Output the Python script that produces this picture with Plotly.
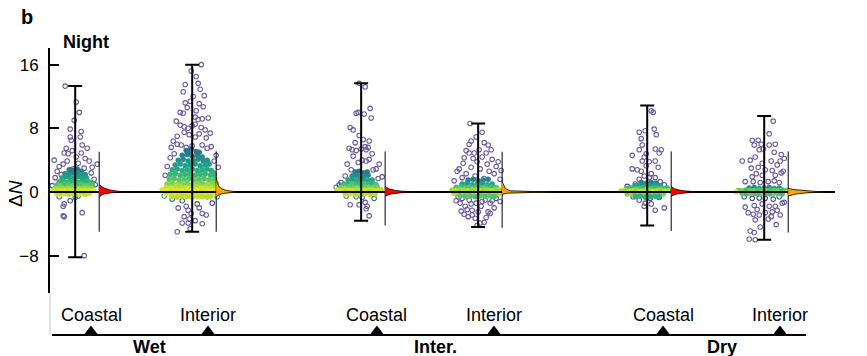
import numpy as np
import plotly.graph_objects as go

# ---------------- data ----------------
groups = ["Wet", "Inter.", "Dry"]
sites = ["Coastal", "Interior", "Coastal", "Interior", "Coastal", "Interior"]
y_ticks = [-8, 0, 8, 16]

# whisker ranges of ΔN per site
whisker_lo = [-8.2, -5.0, -3.6, -4.4, -4.2, -6.0]
whisker_hi = [13.3, 16.0, 13.65, 8.6, 10.85, 9.55]

# half-violin extents
vio_lo = [-5.0, -5.0, -4.2, -4.5, -4.9, -5.1]
vio_hi = [5.06, 5.1, 5.1, 5.06, 5.1, 5.1]
# half-violin density profiles (value, relative density)
vio_wc_y = [-0.7, -0.4, -0.25, -0.1, 0, 0.1, 0.25, 0.5, 0.9]
vio_wc_d = [0, 0.08, 0.2, 0.5, 1.0, 0.7, 0.45, 0.2, 0]
vio_wi_y = [-0.6, -0.3, -0.15, 0, 0.2, 0.4, 0.7, 1.2, 1.9]
vio_wi_d = [0, 0.15, 0.4, 1.0, 0.45, 0.25, 0.12, 0.05, 0]
vio_ic_y = [-0.5, -0.25, -0.1, 0, 0.1, 0.2, 0.4, 0.7]
vio_ic_d = [0, 0.2, 0.55, 1.0, 0.6, 0.35, 0.12, 0]
vio_ii_y = [-0.3, -0.15, -0.05, 0, 0.05, 0.15, 0.4, 0.8, 1.3]
vio_ii_d = [0, 0.1, 0.6, 1.0, 0.6, 0.15, 0.06, 0.03, 0]
vio_dc_y = [-0.5, -0.25, -0.1, 0, 0.1, 0.2, 0.4, 0.67]
vio_dc_d = [0, 0.2, 0.55, 1.0, 0.6, 0.35, 0.12, 0]
vio_di_y = [-0.5, -0.25, -0.1, 0, 0.05, 0.15, 0.3, 0.45]
vio_di_d = [0, 0.2, 0.5, 1.0, 0.75, 0.4, 0.15, 0]
vio_peak = [0.205, 0.188, 0.248, 0.47, 0.239, 0.333]   # peak density (x units)

# individual points: (jitter in px-of-category, ΔN)
pts_wc = [(-10,13.3),(1,11.3),(4,10.0),(-1,9.0),(-5,7.9),(6,7.6),(-5,6.9),(-4,6.5),(5,6.9),(7,5.9),(12,5.5),(-9,5.5),
          (-11,4.9),(-7,4.8),(-21,4.0),(-12,3.5),(17,3.1),(22,3.5),(1,4.4),(6,4.9),(-3,5.2),(10,4.2),(14,3.9),(-16,3.2),
          (-18,2.6),(-8,3.9),(3,3.6),(-2,2.9),(9,3.0),(16,2.4),(19,1.6),(-14,2.2),(-16,-0.6),(-11,-1.5),(-12,-1.8),
          (-5,-1.1),(-12,-3.0),(-11,-3.1),(7,-2.6),(9,-8.0),(0,-0.7),(3,-0.5),(-20,1.8),(20,0.9),(-23,0.8)]
core_wc = [(-6,2.8),(-2,2.7),(2,2.9),(6,2.6),(-10,2.3),(-6,2.2),(-2,2.4),(2,2.3),(6,2.1),(10,2.2),(-13,1.8),(-9,1.9),
           (-5,1.7),(-1,1.8),(3,1.9),(7,1.7),(11,1.8),(-16,1.3),(-12,1.4),(-8,1.2),(-4,1.3),(0,1.4),(4,1.2),(8,1.3),
           (12,1.4),(15,1.2),(-18,0.9),(-14,0.8),(-10,1.0),(-6,0.9),(-2,0.8),(2,1.0),(6,0.9),(10,0.8),(14,0.9),(17,1.0),
           (-20,0.5),(-16,0.55),(-12,0.45),(-8,0.5),(-4,0.55),(0,0.5),(4,0.45),(8,0.5),(12,0.55),(16,0.5),(-22,0.2),
           (-18,0.25),(-14,0.2),(-10,0.15),(-6,0.25),(-2,0.2),(2,0.15),(6,0.2),(10,0.25),(14,0.2),(18,0.15),(-18,-0.2),
           (-14,-0.25),(-10,-0.2),(-6,-0.3),(-2,-0.2),(2,-0.25),(6,-0.2),(10,-0.3),(14,-0.2)]

pts_wi = [(9,16.0),(4,14.5),(-7,13.5),(6,13.65),(-9,12.6),(8,12.9),(12,12.1),(-7,11.2),(-2,11.4),(7,11.1),(-12,10.0),
          (-9,9.9),(4,10.2),(6,9.1),(10,9.2),(3,9.4),(16,9.3),(-12,8.4),(-8,8.2),(-4,8.0),(0,8.3),(3,8.5),(9,8.1),(13,7.8),
          (-15,7.0),(-3,7.2),(-8,7.5),(7,7.3),(14,6.8),(3,6.9),(-21,5.6),(-15,6.0),(-11,5.9),(-6,5.6),(0,5.8),(10,5.9),
          (15,5.5),(19,5.7),(-18,4.8),(-22,4.3),(24,4.6),(22,3.9),(26,3.1),(-25,3.2),(-27,2.1),(21,2.4),(-20,-0.9),
          (-10,-1.1),(-6,-1.8),(-4,-2.3),(-1,-2.7),(-8,-3.1),(-10,-3.9),(-4,-3.9),(-3,-3.4),(-15,-5.0),(10,-2.7),
          (14,-2.9),(10,-4.0),(20,-1.4),(-14,-2.0),(5,-1.5),(-28,-0.5),(25,-0.6),(3,-3.6),(-2,-4.6),(7,-2.0),
          (-1,15.2),(-5,10.6),(11,10.7),(-16,8.9),(18,7.4),(-19,6.4),(1,12.0)]
core_wi = [(-10,4.6),(-5,4.7),(0,4.5),(5,4.6),(10,4.4),(-14,4.0),(-9,4.1),(-4,3.9),(1,4.0),(6,4.1),(11,3.9),(15,4.0),
           (-17,3.4),(-12,3.5),(-7,3.3),(-2,3.4),(3,3.5),(8,3.3),(13,3.4),(17,3.5),(-20,2.8),(-15,2.9),(-10,2.7),
           (-5,2.8),(0,2.9),(5,2.7),(10,2.8),(15,2.9),(19,2.7),(-22,2.2),(-17,2.3),(-12,2.1),(-7,2.2),(-2,2.3),(3,2.1),
           (8,2.2),(13,2.3),(18,2.1),(22,2.2),(-23,1.6),(-18,1.7),(-13,1.5),(-8,1.6),(-3,1.7),(2,1.5),(7,1.6),(12,1.7),
           (17,1.5),(22,1.6),(-25,1.0),(-20,1.1),(-15,0.9),(-10,1.0),(-5,1.1),(0,0.9),(5,1.0),(10,1.1),(15,0.9),(20,1.0),
           (24,1.1),(-26,0.6),(-21,0.55),(-16,0.65),(-11,0.6),(-6,0.55),(-1,0.6),(4,0.65),(9,0.6),(14,0.55),(19,0.6),
           (24,0.65),(-30,0.25),(-25,0.2),(-20,0.3),(-15,0.25),(-10,0.2),(-5,0.3),(0,0.25),(5,0.2),(10,0.3),(15,0.25),
           (20,0.2),(25,0.25),(-26,-0.2),(-21,-0.25),(-16,-0.2),(-11,-0.3),(-6,-0.2),(-1,-0.25),(4,-0.2),(9,-0.3),
           (14,-0.2),(19,-0.25),(23,-0.2),(-20,-0.6),(-15,-0.65),(-10,-0.55),(-5,-0.6),(0,-0.65),(5,-0.55),(10,-0.6),
           (15,-0.65),(18,-0.6),(-6,5.2),(-1,5.4),(4,5.1),(-3,4.9),(7,5.0)]

pts_ic = [(-2,13.65),(4,13.2),(9,10.5),(-5,9.9),(-3,10.0),(3,9.8),(10,9.3),(-11,8.1),(-8,7.8),(-2,7.1),(8,6.4),(4,5.7),
          (-12,5.5),(-9,5.3),(-5,5.2),(0,5.4),(5,5.3),(7,5.6),(1,4.0),(-3,3.7),(5,3.9),(8,4.1),(18,3.5),(-14,3.5),
          (-10,2.8),(12,2.8),(15,2.9),(21,1.9),(17,1.7),(-8,4.5),(-16,2.0),(-20,1.2),(-25,0.6),(-22,0.9),(-11,-1.6),
          (-2,-1.6),(4,-1.3),(6,-1.8),(5,-2.1),(8,-3.0),(-5,-0.6),(1,-0.7),(13,-0.8),(-15,-0.5),(2,6.6),(-6,6.2),(11,4.8)]
core_ic = [(-6,2.5),(-2,2.6),(2,2.4),(6,2.5),(-9,2.0),(-5,2.1),(-1,1.9),(3,2.0),(7,2.1),(-13,1.5),(-9,1.6),(-5,1.4),
           (-1,1.5),(3,1.6),(7,1.4),(11,1.5),(-17,1.0),(-13,1.1),(-9,0.9),(-5,1.0),(-1,1.1),(3,0.9),(7,1.0),(11,1.1),
           (15,0.9),(-20,0.6),(-16,0.55),(-12,0.65),(-8,0.6),(-4,0.55),(0,0.6),(4,0.65),(8,0.6),(12,0.55),(16,0.6),
           (-24,0.25),(-20,0.2),(-16,0.3),(-12,0.25),(-8,0.2),(-4,0.3),(0,0.25),(4,0.2),(8,0.3),(12,0.25),(16,0.2),
           (20,0.25),(-16,-0.25),(-11,-0.2),(-6,-0.3),(-1,-0.25),(4,-0.2),(9,-0.3),(14,-0.25)]

pts_ii = [(-8,8.6),(4,7.5),(-7,6.4),(-9,6.0),(-12,5.2),(1,5.3),(10,5.9),(-4,4.9),(-9,4.9),(8,4.9),(13,5.3),(-15,3.6),
          (-19,2.9),(-21,2.6),(20,3.8),(18,3.2),(23,2.7),(16,2.3),(-12,2.3),(-5,4.2),(4,4.4),(-1,3.8),(9,3.5),(-7,3.1),
          (2,2.9),(11,2.6),(-16,1.8),(-24,1.4),(22,1.6),(-2,6.9),(6,6.2),(-14,4.3),(14,4.1),(-3,2.0),(6,1.7),
          (-20,-0.6),(-16,-0.8),(-9,-1.0),(-2,-1.4),(7,-1.0),(12,-1.4),(18,-0.8),(-13,-1.8),(-6,-2.3),(3,-1.8),
          (10,-2.5),(-18,-1.4),(-14,-2.8),(-10,-3.1),(-6,-2.9),(2,-3.9),(6,-3.8),(12,-2.7),(-22,-1.1),(22,-1.2),
          (-3,-3.3),(8,-3.2),(16,-2.0),(-11,-2.2),(0,-2.5),(4,-1.2),(-7,-1.5),(14,-1.1),(-1,-4.2),(-17,-2.4)]
core_ii = [(-10,1.5),(-5,1.6),(0,1.4),(5,1.5),(10,1.6),(-16,1.0),(-11,1.1),(-6,0.9),(-1,1.0),(4,1.1),(9,0.9),(14,1.0),
           (-22,0.6),(-17,0.65),(-12,0.55),(-7,0.6),(-2,0.65),(3,0.55),(8,0.6),(13,0.65),(18,0.55),(-26,0.25),
           (-22,0.2),(-18,0.3),(-14,0.25),(-10,0.2),(-6,0.3),(-2,0.25),(2,0.2),(6,0.3),(10,0.25),(14,0.2),(18,0.3),
           (21,0.25),(-24,-0.2),(-19,-0.25),(-14,-0.2),(-9,-0.3),(-4,-0.2),(1,-0.25),(6,-0.2),(11,-0.3),(16,-0.2),
           (20,-0.25),(-18,-0.5),(-13,-0.55),(-8,-0.5),(-3,-0.6),(2,-0.5),(7,-0.55),(12,-0.5),(16,-0.6)]

pts_dc = [(4,10.2),(6,10.0),(-8,7.5),(-2,7.7),(7,7.9),(-6,6.7),(9,7.2),(-5,5.9),(-8,5.3),(-1,4.8),(8,5.4),(14,5.3),
          (12,4.9),(-3,4.4),(-15,4.6),(-5,3.9),(2,3.8),(8,3.9),(-1,3.3),(11,3.1),(-15,2.9),(-10,2.8),(-6,2.6),(4,2.3),
          (2,1.8),(8,1.8),(-8,1.6),(-3,2.0),(13,1.3),(-12,1.0),(17,0.9),(-20,0.7),(-8,-1.0),(-2,-1.4),(-3,-1.8),
          (4,-1.5),(8,-2.3),(17,-2.0),(3,-0.8),(12,-0.7),(-14,-0.6)]
core_dc = [(-6,1.2),(-1,1.1),(4,1.2),(9,1.1),(-12,0.8),(-7,0.85),(-2,0.75),(3,0.8),(8,0.85),(13,0.75),(-20,0.45),
           (-16,0.5),(-12,0.4),(-8,0.45),(-4,0.5),(0,0.4),(4,0.45),(8,0.5),(12,0.4),(16,0.45),(20,0.5),(-26,0.15),
           (-22,0.2),(-18,0.1),(-14,0.15),(-10,0.2),(-6,0.1),(-2,0.15),(2,0.2),(6,0.1),(10,0.15),(14,0.2),(18,0.1),
           (22,0.15),(-20,-0.25),(-16,-0.2),(-12,-0.3),(-8,-0.25),(-4,-0.2),(0,-0.3),(4,-0.25),(8,-0.2),(12,-0.3),
           (16,-0.25),(-12,-0.6),(-7,-0.55),(-2,-0.65),(3,-0.6),(8,-0.55),(12,-0.6)]

pts_di = [(9,8.9),(5,7.3),(-12,6.5),(-6,6.5),(-3,6.0),(-10,5.9),(-1,5.4),(-5,5.3),(5,5.9),(11,6.0),(10,5.0),(17,4.7),
          (20,4.2),(-22,3.9),(-14,4.0),(-9,4.4),(-2,3.6),(7,3.9),(13,3.4),(16,3.9),(-13,3.0),(-6,3.1),(1,2.8),(8,2.7),
          (17,2.4),(-12,1.9),(-8,2.3),(-2,2.1),(11,2.1),(19,2.6),(-19,1.3),(-11,1.3),(-4,1.2),(4,1.3),(10,1.4),(15,1.2),
          (-20,-0.6),(-12,-0.8),(-5,-0.75),(1,-0.8),(9,-0.9),(15,-0.6),(20,-1.3),(-19,-1.9),(-10,-1.7),(-2,-1.5),
          (5,-1.8),(11,-1.8),(18,-1.4),(-11,-2.8),(-5,-2.9),(1,-2.6),(8,-2.5),(13,-2.3),(-9,-3.5),(4,-3.4),(12,-4.1),
          (-14,-4.9),(-10,-5.1),(-15,-5.9),(-9,-6.0),(-4,-4.4),(7,-3.1),(-7,-2.2),(16,-2.9),(-16,-2.6)]
core_di = [(-15,0.5),(-10,0.55),(-5,0.45),(0,0.5),(5,0.55),(10,0.45),(15,0.5),(-26,0.2),(-22,0.15),(-18,0.25),
           (-14,0.2),(-10,0.15),(-6,0.25),(-2,0.2),(2,0.15),(6,0.25),(10,0.2),(14,0.15),(18,0.25),(22,0.2),
           (-22,-0.2),(-18,-0.25),(-14,-0.15),(-10,-0.2),(-6,-0.25),(-2,-0.15),(2,-0.2),(6,-0.25),(10,-0.15),
           (14,-0.2),(18,-0.25),(-28,0.0),(24,0.0)]

points = [pts_wc, pts_wi, pts_ic, pts_ii, pts_dc, pts_di]
cores = [core_wc, core_wi, core_ic, core_ii, core_dc, core_di]
vio_ys = [vio_wc_y, vio_wi_y, vio_ic_y, vio_ii_y, vio_dc_y, vio_di_y]
vio_ds = [vio_wc_d, vio_wi_d, vio_ic_d, vio_ii_d, vio_dc_d, vio_di_d]

# ---------------- layout / style ----------------
CAT_POS = [1, 2, 3.444, 4.444, 5.889, 6.889]
PX_PER_UNIT = 117.0
SCAT_OFF = -0.135
VIO_OFF = 0.07
OUTER_SPREAD = [1.4, 1.8, 1.4, 1.0, 1.0, 1.0]
CORE_SPREAD = [3.4, 6.2, 3.0, 2.0, 1.5, 0.8]
VIO_COLORS = ["#ff0000", "#ffa500", "#ff0000", "#ffa500", "#ff0000", "#ffa500"]
XR = [0.6496, 7.359]
FONT = "Liberation Sans, Arial, sans-serif"
OUTER_SCALE = [[0, "#7ad151"], [0.25, "#22a884"], [0.5, "#2a788e"], [0.75, "#414487"], [1, "#6a5a9e"]]
CORE_SCALE = [[0, "#fde725"], [0.08, "#c8e020"], [0.18, "#74d055"], [0.35, "#35b779"], [0.55, "#1f9e89"],
              [0.75, "#26828e"], [1, "#35608d"]]

fig = go.Figure()

for i in range(6):
    cx = CAT_POS[i] + SCAT_OFF
    # sparse outer points: open rings
    dx = np.array([p[0] for p in points[i]]) / PX_PER_UNIT
    yy = np.array([p[1] for p in points[i]])
    fig.add_trace(go.Scatter(
        x=cx + dx, y=yy, mode="markers", hoverinfo="skip",
        marker=dict(symbol="circle-open", size=4.5, color=np.clip(np.abs(yy) / OUTER_SPREAD[i], 0, 1),
                    colorscale=OUTER_SCALE, cmin=0, cmax=1, line=dict(width=1.1))))
    # dense core: filled points
    dx = np.array([p[0] for p in cores[i]]) / PX_PER_UNIT
    yy = np.array([p[1] for p in cores[i]])
    fig.add_trace(go.Scatter(
        x=cx + dx, y=yy, mode="markers", hoverinfo="skip",
        marker=dict(symbol="circle", size=5.5, color=np.clip(np.abs(yy) / CORE_SPREAD[i], 0, 1),
                    colorscale=CORE_SCALE, cmin=0, cmax=1, line=dict(width=0))))

# zero line
fig.add_trace(go.Scatter(x=XR, y=[0, 0], mode="lines", line=dict(color="black", width=2), hoverinfo="skip"))

# whiskers
for i in range(6):
    fig.add_trace(go.Scatter(
        x=[CAT_POS[i] + SCAT_OFF], y=[0], mode="markers",
        marker=dict(size=1, color="rgba(0,0,0,0)"), hoverinfo="skip",
        error_y=dict(type="data", symmetric=False, array=[whisker_hi[i]], arrayminus=[-whisker_lo[i]],
                     thickness=2, width=7, color="black")))

# half violins
for i in range(6):
    bx = CAT_POS[i] + VIO_OFF
    fig.add_trace(go.Scatter(x=[bx, bx], y=[vio_lo[i], vio_hi[i]], mode="lines",
                             line=dict(color="black", width=1), hoverinfo="skip"))
    dens = np.array(vio_ds[i]) * vio_peak[i]
    xs = np.concatenate([[bx], bx + dens, [bx]])
    ys = np.concatenate([[vio_ys[i][0]], vio_ys[i], [vio_ys[i][-1]]])
    fig.add_trace(go.Scatter(x=xs, y=ys, mode="lines", fill="toself", fillcolor=VIO_COLORS[i],
                             line=dict(color="black", width=0.8), hoverinfo="skip"))

# bottom category axis
fig.add_trace(go.Scatter(x=[CAT_POS[0] - 0.333, CAT_POS[-1] + 0.222], y=[21, 21], yaxis="y2",
                         mode="lines", line=dict(color="black", width=2), hoverinfo="skip"))
fig.add_trace(go.Scatter(x=CAT_POS, y=[24.2] * 6, yaxis="y2", mode="markers", cliponaxis=False,
                         marker=dict(symbol="triangle-up", size=12.5, color="black"), hoverinfo="skip"))

annotations = []
for i, s in enumerate(sites):
    annotations.append(dict(x=CAT_POS[i], y=41, xref="x", yref="y2", text=s, showarrow=False,
                            xanchor="center", yanchor="middle",
                            font=dict(size=18, color="black", family=FONT)))
for g, name in enumerate(groups):
    annotations.append(dict(x=(CAT_POS[2 * g] + CAT_POS[2 * g + 1]) / 2, y=9, xref="x", yref="y2",
                            text="<b>%s</b>" % name, showarrow=False, xanchor="center", yanchor="middle",
                            font=dict(size=18, color="black", family=FONT)))
annotations += [
    dict(x=-0.0446, y=0.5158, xref="paper", yref="paper", text="Δ<i>N</i>", textangle=-90,
         xanchor="center", yanchor="middle", showarrow=False, font=dict(size=19, color="black", family=FONT)),
    dict(x=-0.0293, y=1.0728, xref="paper", yref="paper", text="<b>b</b>", showarrow=False,
         xanchor="center", yanchor="middle", font=dict(size=20, color="black", family=FONT)),
    dict(x=0.014, y=0.9937, xref="paper", yref="paper", text="<b>Night</b>", showarrow=False,
         xanchor="left", yanchor="middle", font=dict(size=18, color="black", family=FONT)),
]

fig.update_layout(
    width=867, height=356, margin=dict(l=50, r=32, t=40, b=0),
    plot_bgcolor="white", paper_bgcolor="white", showlegend=False,
    font=dict(family=FONT, color="black"),
    xaxis=dict(range=XR, visible=False),
    yaxis=dict(domain=[0.1994, 0.9747], range=[-12.69, 18.09], tickvals=y_ticks, ticks="inside",
               ticklen=9, tickwidth=2, tickcolor="black", showline=True, linewidth=2, linecolor="black",
               showgrid=False, zeroline=False, tickfont=dict(size=17, color="black", family=FONT),
               ticklabelstandoff=6),
    yaxis2=dict(domain=[0, 0.1994], range=[0, 63], visible=False, anchor="x"),
    shapes=[dict(type="line", xref="paper", yref="y2", x0=0, x1=0, y0=21, y1=63,
                 line=dict(color="#c8c8c8", width=1))],
    annotations=annotations,
)

fig.write_html("out.html", config={"displayModeBar": False},
               post_script="document.body.style.margin='0px';document.body.style.padding='0px';")
